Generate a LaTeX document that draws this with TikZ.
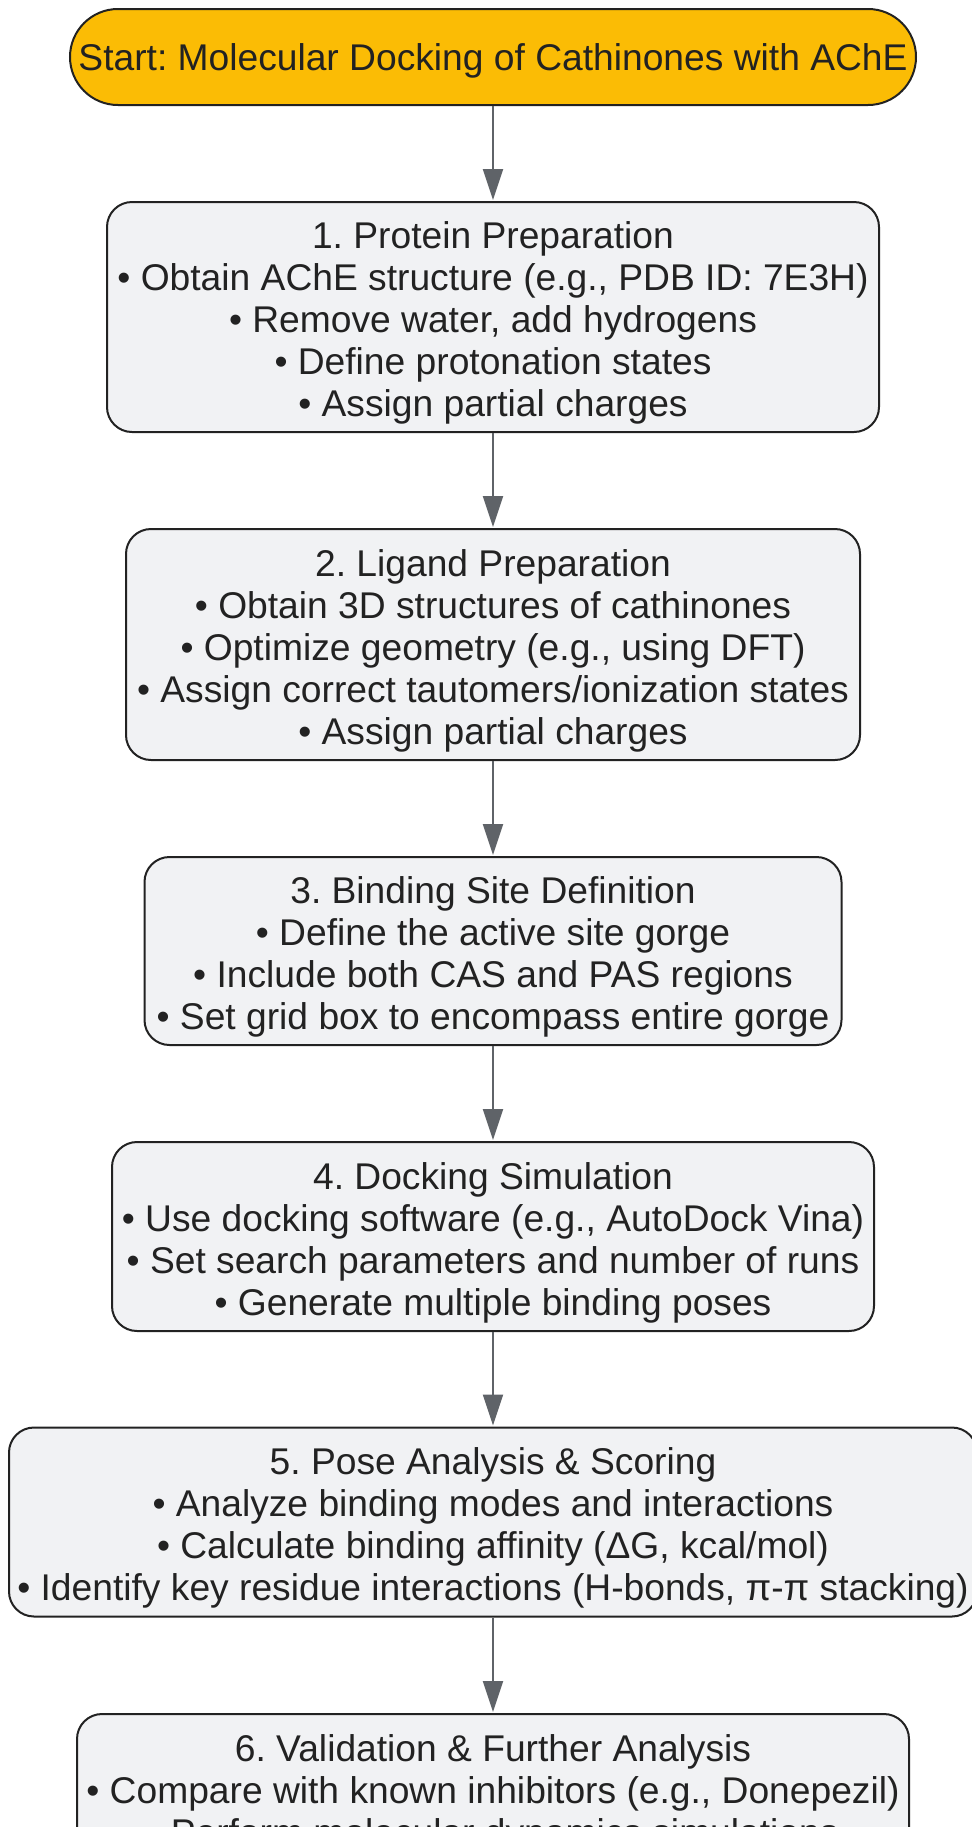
\documentclass[tikz,border=0pt]{standalone}
\usepackage{fontspec}
\setmainfont{Liberation Sans}
\usetikzlibrary{arrows.meta}
\definecolor{startorange}{HTML}{FBBC05}
\definecolor{stepgrey}{HTML}{F1F2F4}
\definecolor{linegrey}{HTML}{5F6368}
\definecolor{inkdark}{HTML}{222222}
\frenchspacing
\newcommand{\topstrut}[1][19.5pt]{\rule{0pt}{#1}}
\begin{document}
\begin{tikzpicture}[x=0.5pt, y=-0.5pt,
	startbox/.style = {draw=inkdark, line width=1pt, fill=startorange, rounded corners=24pt, align=center, text=inkdark, font=\fontsize{18.6}{21}\selectfont, inner sep=0pt},
	stepbox/.style = {draw=inkdark, line width=1pt, fill=stepgrey, rounded corners=12.5pt, align=center, text=inkdark, font=\fontsize{18.6}{21}\selectfont, inner xsep=0pt, inner ysep=2pt},
	arr/.style = {draw=linegrey, line width=1pt, -{Triangle[length=15.5pt, width=10pt]}, shorten >=0.5pt}]
		\useasboundingbox (0,0) rectangle (972,1827);
		
		\coordinate (s) at (493,57);
		\coordinate (1) at (493,317);
		\coordinate (2) at (493,644.5);
		\coordinate (3) at (493,951);
		\coordinate (4) at (493,1236.5);
		\coordinate (5) at (493,1522);
		\coordinate (6) at (493,1713);
		
		\node[startbox, minimum width=423pt, minimum height=48pt] (start) at (s) {\topstrut[17pt]Start: Molecular Docking of Cathinones with AChE};
		
		\node[stepbox, minimum width=386pt, minimum height=115pt] (prot) at (1) {\topstrut 1. Protein Preparation\\ • Obtain AChE structure (e.g., PDB ID: 7E3H)\\ • Remove water, add hydrogens\\ • Define protonation states\\ • Assign partial charges};
		\node[stepbox, minimum width=367pt, minimum height=115.5pt] (lig) at (2) {\topstrut 2. Ligand Preparation\\ • Obtain 3D structures of cathinones\\ • Optimize geometry (e.g., using DFT)\\ • Assign correct tautomers/ionization states\\ • Assign partial charges};
		\node[stepbox, minimum width=348.5pt, minimum height=94pt] (site) at (3) {\topstrut 3. Binding Site Definition\\ • Define the active site gorge\\ • Include both CAS and PAS regions\\ • Set grid box to encompass entire gorge};
		\node[stepbox, minimum width=381pt, minimum height=94.5pt] (dock) at (4) {\topstrut 4. Docking Simulation\\ • Use docking software (e.g., AutoDock Vina)\\ • Set search parameters and number of runs\\ • Generate multiple binding poses};
		\node[stepbox, minimum width=484pt, minimum height=94.5pt] (pose) at (5) {\topstrut 5. Pose Analysis \& Scoring\\ • Analyze binding modes and interactions\\ • Calculate binding affinity (ΔG, kcal/mol)\\ • Identify key residue interactions (H-bonds, π-π stacking)};
		\node[stepbox, minimum width=416pt, anchor=north, inner ysep=4pt] (valid) at (6) {\topstrut 6. Validation \& Further Analysis\\ • Compare with known inhibitors (e.g., Donepezil)\\ • Perform molecular dynamics simulations};
		
		\draw[arr] (start) -- (prot);
		\draw[arr] (prot) -- (lig);
		\draw[arr] (lig) -- (site);
		\draw[arr] (site) -- (dock);
		\draw[arr] (dock) -- (pose);
		\draw[arr] (pose) -- (valid);
	\end{tikzpicture}
\end{document}
